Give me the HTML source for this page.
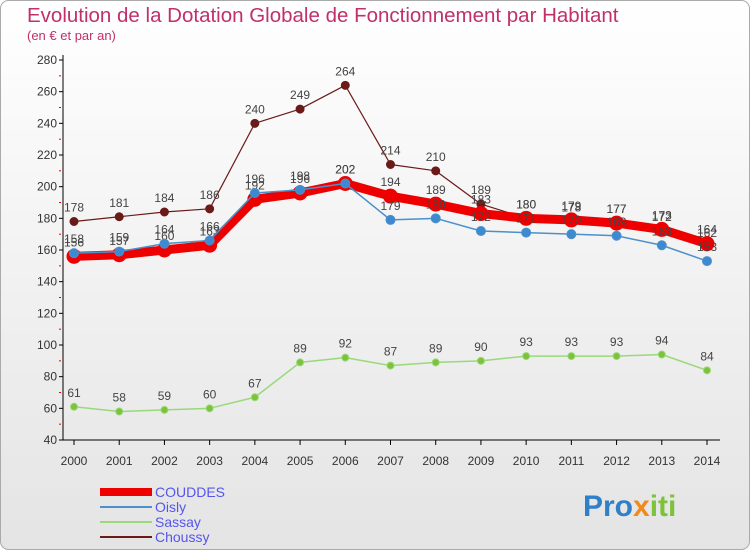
<!DOCTYPE html>
<html><head><meta charset="utf-8"><style>
body{margin:0;background:#fff}
svg{display:block;font-family:"Liberation Sans",sans-serif}
</style></head><body>
<svg id="c" width="750" height="550">
<defs><linearGradient id="bg" x1="0" y1="0" x2="0" y2="1"><stop offset="0" stop-color="#ffffff"/><stop offset="1" stop-color="#e4e4e4"/></linearGradient></defs>
<rect x="0.5" y="0.5" width="749" height="549" rx="8" fill="url(#bg)" stroke="#aaa"/>
<text x="27" y="22" font-size="20.5" fill="#c0306a">Evolution de la Dotation Globale de Fonctionnement par Habitant</text>
<text x="27" y="40" font-size="13" fill="#c0306a">(en € et par an)</text>
<g id="axes"></g><g id="series"></g>
<g id="legend"></g>
<g font-size="30" font-weight="bold">
<text x="583" y="516" fill="#2f7fc9">Pro<tspan fill="#f08a1c">x</tspan><tspan fill="#7cc23a">iti</tspan></text></g>
</svg>
<script>
const years=[2000,2001,2002,2003,2004,2005,2006,2007,2008,2009,2010,2011,2012,2013,2014];
const yTicks=[40,60,80,100,120,140,160,180,200,220,240,260,280];
const couddes=[156,157,160,163,192,196,202,194,189,183,180,179,177,173,164];
const oisly=[158,159,164,166,196,198,202,179,180,172,171,170,169,163,153];
const sassay=[61,58,59,60,67,89,92,87,89,90,93,93,93,94,84];
const choussy=[178,181,184,186,240,249,264,214,210,189,180,178,177,172,162];
const NS="http://www.w3.org/2000/svg";
const X=i=>74+i*(707-74)/(years.length-1);
const Y=v=>440-(v-40)*380/240;
function el(t,a,p){const e=document.createElementNS(NS,t);for(const k in a)e.setAttribute(k,a[k]);p.appendChild(e);return e;}
const ax=document.getElementById('axes');
const yl=el('line',{x1:63,y1:55,x2:63,y2:440,stroke:'#000'},ax);


const xl=el('line',{x1:63,y1:440,x2:720,y2:440,stroke:'#000'},ax);


yTicks.forEach(v=>{
 el('line',{x1:59,y1:Y(v),x2:63,y2:Y(v),stroke:'#000'},ax);
 if(v<280) el('line',{x1:59,y1:Y(v+10),x2:61,y2:Y(v+10),stroke:'#e00'},ax);
 const t=el('text',{x:57,y:Y(v)+4,'text-anchor':'end','font-size':12,fill:'#333'},ax);t.textContent=v;
 
 
});
years.forEach((y,i)=>{
 el('line',{x1:X(i),y1:440,x2:X(i),y2:445,stroke:'#000'},ax);
 const t=el('text',{x:X(i),y:465,'text-anchor':'middle','font-size':12,fill:'#333'},ax);t.textContent=y;
 
 
});
const sg=document.getElementById('series');
function draw(name,data,color,w,r,dot){
 const g=el('g',{},sg);
 
 
 el('polyline',{points:data.map((v,i)=>X(i)+','+Y(v)).join(' '),fill:'none',stroke:color,'stroke-width':w,'stroke-linejoin':'round'},g);
 data.forEach((v,i)=>{
  const c=el('circle',{cx:X(i),cy:Y(v),r:r,fill:dot,stroke:color,'stroke-width':1},g);
  
  
  const t=el('text',{x:X(i),y:Y(v)-10,'text-anchor':'middle','font-size':12,fill:'#444'},g);t.textContent=v;
  
  
 });
}
draw('choussy',choussy,'#6b1a1a',1.2,4,'#6b1a1a');
draw('sassay',sassay,'#99d97a',1.5,3.5,'#7cc23a');
draw('couddes',couddes,'#ee0000',9,7,'#ee0000');
draw('oisly',oisly,'#4a90cc',1.5,4.5,'#3d8ad0');
const lg=document.getElementById('legend');
[['COUDDES','#ee0000',8],['Oisly','#4a90cc',2],['Sassay','#99d97a',2],['Choussy','#6b1a1a',2]].forEach((d,i)=>{
 const y=492+i*15;
 const g=el('g',{},lg);
 
 
 el('line',{x1:100,y1:y,x2:152,y2:y,stroke:d[1],'stroke-width':d[2]},g);
 const t=el('text',{x:155,y:y+5,'font-size':14,fill:'#5555ee'},g);t.textContent=d[0];
});
</script>
</body></html>
